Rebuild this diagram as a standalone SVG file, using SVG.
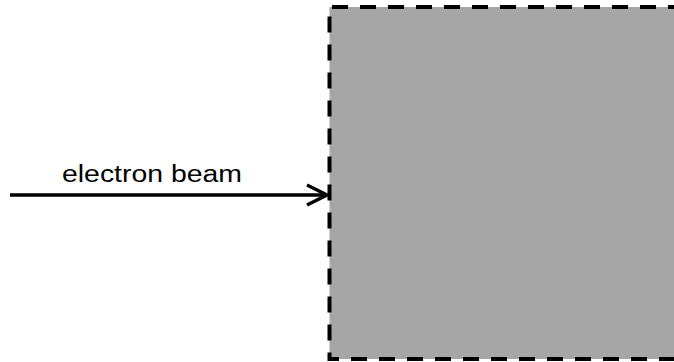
<svg xmlns="http://www.w3.org/2000/svg" width="674" height="362" viewBox="0 0 674 362">
  <style>
    .label { font-family: "Liberation Sans", Arial, sans-serif; font-size: 23.5px; fill: #000; }
    .edge { fill: none; stroke: #000; stroke-width: 3.5; stroke-linecap: butt; }
    .dashed { fill: none; stroke: #000; stroke-width: 4; stroke-dasharray: 16 12; stroke-dashoffset: 12; }
  </style>
  <rect width="674" height="362" fill="#fff"/>
  <g id="target">
    <rect x="329.5" y="7" width="360" height="352" fill="#a6a6a6"/>
    <path d="M700,7 L329.5,7 L329.5,359 L700,359" class="dashed"/>
  </g>
  <g id="connectors">
    <line x1="10" y1="195" x2="327" y2="195" class="edge"/>
    <path d="M307,185 L327,195 L307,205" class="edge" stroke-width="4" stroke-linejoin="miter"/>
  </g>
  <g id="beam-label">
    <text x="62" y="182" class="label" textLength="180" lengthAdjust="spacingAndGlyphs">electron beam</text>
  </g>
</svg>
